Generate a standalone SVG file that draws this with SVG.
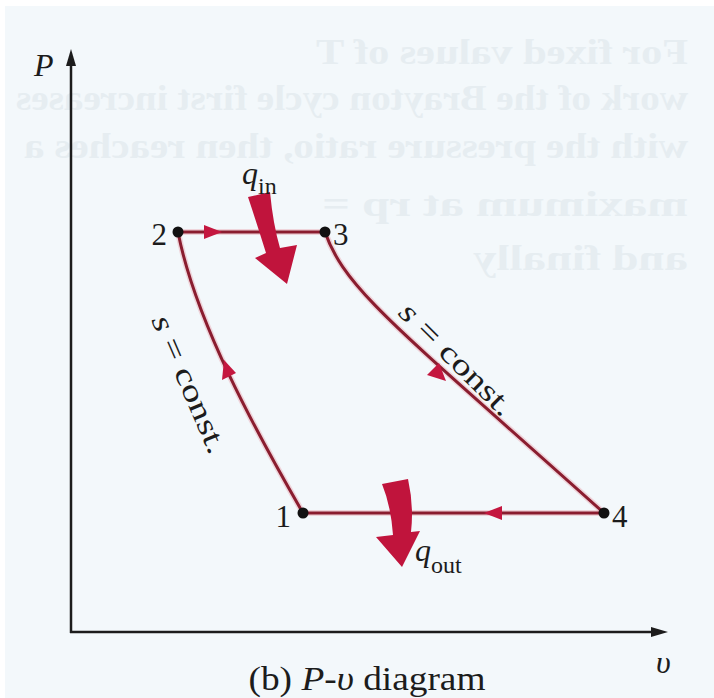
<svg xmlns="http://www.w3.org/2000/svg" width="714" height="698" viewBox="0 0 714 698">
<defs>
<style>
.ghost{font-family:"Liberation Serif","Times New Roman",Tinos,serif;font-size:36px;font-weight:bold;fill:#e6edf1}
.lbl{font-family:"Liberation Serif","Times New Roman",Tinos,serif;fill:#1c1c1c}
.it{font-style:italic}
.cyc{fill:none;stroke:#8a1d2f;stroke-width:3;stroke-linecap:round}
.halo{fill:none;stroke:#e9a9b1;stroke-width:6;stroke-linecap:round;opacity:0.45}
.axis{fill:none;stroke:#1c1c1c;stroke-width:2.5}
.tri{fill:#c4173f}
.heat{fill:#c0143c}
.dot{fill:#111}
</style>
</defs>
<rect width="714" height="698" fill="#ffffff"/>
<rect x="5" y="6" width="709" height="692" fill="#f3f8fb"/>
<g id="ghost-text" transform="translate(714,0) scale(-1,1)">
<text class="ghost" x="26" y="64" textLength="372" lengthAdjust="spacingAndGlyphs">For fixed values of T</text>
<text class="ghost" x="26" y="110" textLength="672" lengthAdjust="spacingAndGlyphs">work of the Brayton cycle first increases</text>
<text class="ghost" x="26" y="158" textLength="664" lengthAdjust="spacingAndGlyphs">with the pressure ratio, then reaches a</text>
<text class="ghost" x="26" y="216" textLength="366" lengthAdjust="spacingAndGlyphs">maximum at rp =</text>
<text class="ghost" x="26" y="270" textLength="215" lengthAdjust="spacingAndGlyphs">and finally</text>
</g>
<g id="axes">
<line class="axis" x1="71" y1="633" x2="71" y2="62"/>
<polygon points="71,49 66,66 76,66" fill="#1c1c1c"/>
<line class="axis" x1="70" y1="632" x2="654" y2="632"/>
<polygon points="668,632 651,627 651,637" fill="#1c1c1c"/>
<text class="lbl it" x="34" y="76" font-size="32">P</text>
<text class="lbl it" x="656" y="673" font-size="32">υ</text>
</g>
<g id="connectors">
<path class="halo" d="M178,232 L325,232"/>
<path class="halo" d="M325,232 C345,290 400,330 604,513"/>
<path class="halo" d="M604,513 L303,513"/>
<path class="halo" d="M303,513 C255,430 195,320 178,232"/>
<path class="cyc" d="M178,232 L325,232"/>
<path class="cyc" d="M325,232 C345,290 400,330 604,513"/>
<path class="cyc" d="M604,513 L303,513"/>
<path class="cyc" d="M303,513 C255,430 195,320 178,232"/>
<polygon class="tri" points="222,232 204,225 204,239"/>
<polygon class="tri" points="484,513 502,506 502,520"/>
<polygon class="tri" points="224,360 222,380 236,373"/>
<polygon class="tri" points="446,381 439,363 427,375"/>
</g>
<g id="node-2">
<circle class="dot" cx="178" cy="232" r="5.5"/>
<text class="lbl" x="167" y="245" font-size="31" text-anchor="end">2</text>
</g>
<g id="node-3">
<circle class="dot" cx="325" cy="232" r="5.5"/>
<text class="lbl" x="333" y="245" font-size="31">3</text>
</g>
<g id="node-1">
<circle class="dot" cx="303" cy="513" r="5.5"/>
<text class="lbl" x="291" y="527" font-size="31" text-anchor="end">1</text>
</g>
<g id="node-4">
<circle class="dot" cx="604" cy="513" r="5.5"/>
<text class="lbl" x="612" y="527" font-size="31">4</text>
</g>
<g id="q-in">
<path class="heat" d="M248,197 L270,192 Q273,224 280,248 L297,245 L287,284 L255,258 L266,253 Q257,224 248,197 Z"/>
<text class="lbl" x="242" y="184" font-size="32"><tspan class="it">q</tspan><tspan font-size="24" dy="10">in</tspan></text>
</g>
<g id="q-out">
<path class="heat" d="M382,484 L408,479 Q414,506 411,532 L420,531 L402,567 L376,537 L393,535 Q391,506 382,484 Z"/>
<text class="lbl" x="415" y="561" font-size="32"><tspan class="it">q</tspan><tspan font-size="24" dy="12">out</tspan></text>
</g>
<g id="labels">
<text class="lbl" x="151" y="320" font-size="30" textLength="148" lengthAdjust="spacingAndGlyphs" transform="rotate(66.6 151 320)"><tspan class="it">s</tspan> = const.</text>
<text class="lbl" x="397" y="314" font-size="30" textLength="148" lengthAdjust="spacingAndGlyphs" transform="rotate(44.7 397 314)"><tspan class="it">s</tspan> = const.</text>
<text class="lbl" x="367" y="690" font-size="34" text-anchor="middle" textLength="237" lengthAdjust="spacingAndGlyphs">(b) <tspan class="it">P</tspan>-<tspan class="it">υ</tspan> diagram</text>
</g>
</svg>
